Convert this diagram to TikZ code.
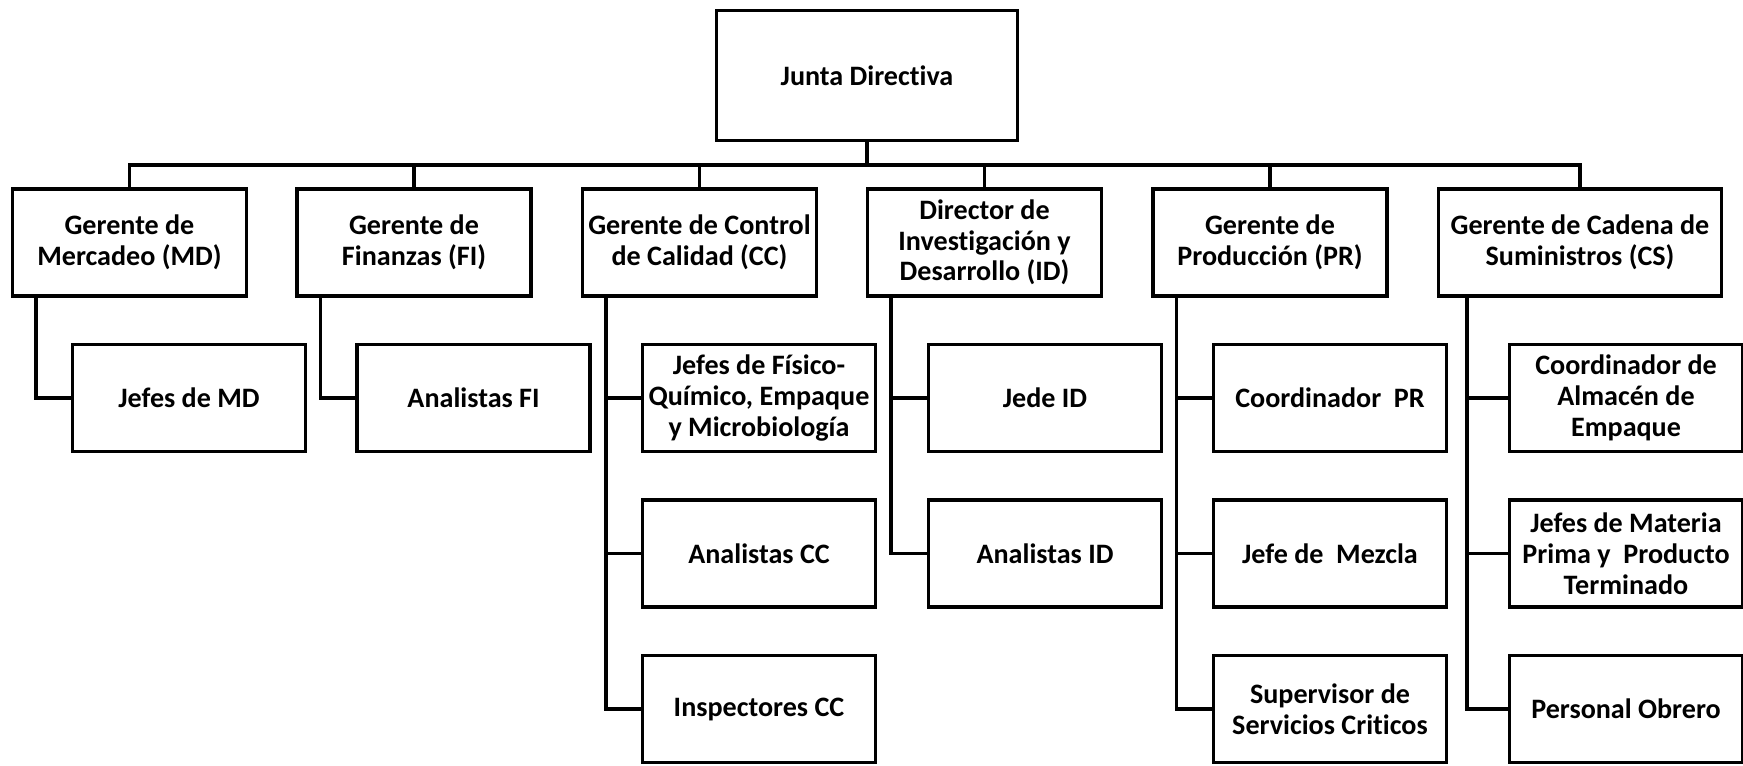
\documentclass[tikz,border=0pt]{standalone}
\usepackage{fontspec}
\setmainfont{Carlito}[Ligatures={NoCommon,TeX}]
\usetikzlibrary{positioning}

\tikzset{
    puesto/.style={draw, line width=2pt, align=center, inner sep=2pt,
        font=\fontsize{16}{17.5}\selectfont\bfseries},
    junta/.style={puesto, minimum width=6.02cm, minimum height=2.6cm},
    gerente/.style={puesto, minimum width=4.68cm, minimum height=2.14cm},
    subord/.style={puesto, minimum width=4.66cm, minimum height=2.14cm},
    linea/.style={line width=2pt, line cap=rect}
}

\begin{document}
\begin{tikzpicture}[x=0.02cm, y=-0.02cm]
    \useasboundingbox (0, 0) rectangle (1743, 765);

    \node[junta] (jd) at (867, 75.5) {Junta Directiva};
    \coordinate (bus) at (867, 165);

    % gerencias
    \node[gerente] (md) at (129.5, 242.5) {Gerente de\\Mercadeo (MD)};
    \node[gerente] (fi) at (414, 242.5) {Gerente de\\Finanzas (FI)};
    \node[gerente] (cc) at (699.5, 242.5) {Gerente de Control\\de Calidad (CC)};
    \node[gerente] (id) at (984.5, 242.5) {Director de\\Investigación y\\Desarrollo (ID)};
    \node[gerente] (pr) at (1270, 242.5) {Gerente de\\Producción (PR)};
    \node[gerente, minimum width=5.66cm] (cs) at (1580, 242.5) {Gerente de Cadena de\\Suministros (CS)};

    % subordinados
    \node[subord] (md1) at (189, 398) {Jefes de MD};
    \node[subord] (fi1) at (473.5, 398) {Analistas FI};
    \node[subord] (cc1) at (759, 398) {Jefes de Físico-\\Químico, Empaque\\y Microbiología};
    \node[subord] (cc2) at (759, 553.5) {Analistas CC};
    \node[subord] (cc3) at (759, 709) {Inspectores CC};
    \node[subord] (id1) at (1045, 398) {Jede ID};
    \node[subord] (id2) at (1045, 553.5) {Analistas ID};
    \node[subord] (pr1) at (1330, 398) {Coordinador~ PR};
    \node[subord] (pr2) at (1330, 553.5) {Jefe de~ Mezcla};
    \node[subord] (pr3) at (1330, 709) {Supervisor de\\Servicios Criticos};
    \node[subord] (cs1) at (1626, 398) {Coordinador de\\Almacén de\\Empaque};
    \node[subord] (cs2) at (1626, 553.5) {Jefes de Materia\\Prima y~ Producto\\Terminado};
    \node[subord] (cs3) at (1626, 709) {Personal Obrero};

    \draw[linea] (jd) -- (bus);
    \foreach \g in {md, fi, cc, id, pr, cs}
        \draw[linea] (bus) -| (\g.north);

    \foreach \g/\s in {md/md1, fi/fi1, cc/cc1, cc/cc2, cc/cc3, id/id1, id/id2,
                       pr/pr1, pr/pr2, pr/pr3}
        \draw[linea] ([xshift=0.5cm]\g.south west) |- (\s.west);
    \foreach \s in {cs1, cs2, cs3}
        \draw[linea] ([xshift=0.6cm]cs.south west) |- (\s.west);
\end{tikzpicture}
\end{document}
